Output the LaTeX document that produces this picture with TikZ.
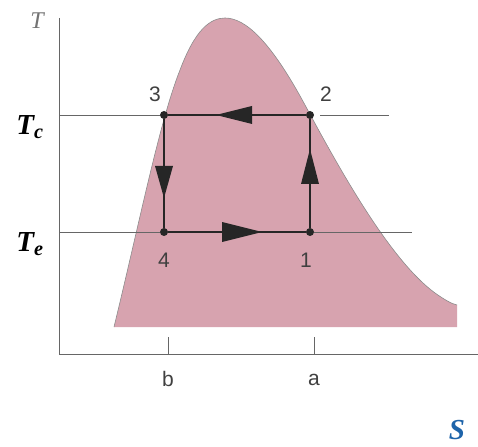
\documentclass[tikz,border=0pt]{standalone}
\usepackage{fontspec}
\setmainfont{Liberation Serif}
\setsansfont{Liberation Sans}
\begin{document}
\begin{tikzpicture}[x=1pt,y=-1pt,
  thin line/.style={draw=black!60,line width=0.9pt},
  cycle line/.style={draw=black!85,line width=1.4pt},
  dot/.style={circle,fill=black!85,inner sep=0pt,minimum size=8pt},
  tri/.style={fill=black!85},
  num/.style={font=\sffamily\fontsize{21}{21}\selectfont,text=black!75},
  axlab/.style={font=\itshape\fontsize{24}{24}\selectfont,text=black!55},
  big/.style={font=\bfseries\itshape\fontsize{29}{29}\selectfont}]
\definecolor{pinkfill}{RGB}{215,163,175}
\useasboundingbox (0,0) rectangle (478,446);
% pink region
\def\dome{(114,327) .. controls (140,220) and (160,120) .. (180,70)
 .. controls (195,30) and (210,18) .. (225,18)
 .. controls (245,18) and (270,40) .. (305,105)
 .. controls (340,170) and (390,260) .. (435,293)
 .. controls (445,300) and (452,304) .. (457,305)}
\fill[pinkfill] \dome -- (457,327) -- cycle;
\draw[draw=black!45,line width=0.6pt] \dome;
% axes
\coordinate (top) at (59,18);
\coordinate (orig) at (59,354);
\coordinate (right) at (478,354);
\draw[thin line] (top) -- (orig) -- (right);
% ticks
\coordinate (bt) at (168,337); \coordinate (bb) at (168,354);
\coordinate (at) at (314,337); \coordinate (ab) at (314,354);
\draw[thin line] (bt) -- (bb);
\draw[thin line] (at) -- (ab);
% points
\node[dot] (p3) at (164,115) {};
\node[dot] (p2) at (310,115) {};
\node[dot] (p4) at (164,232) {};
\node[dot] (p1) at (310,232) {};
% horizontal thin lines
\coordinate (tcL) at (59,115); \coordinate (tcR) at (389,115);
\coordinate (teL) at (59,232); \coordinate (teR) at (412,232);
\coordinate (tc2) at (320,115);
\draw[thin line] (tcL) -- (p3);
\draw[thin line] (tc2) -- (tcR);
\draw[thin line] (teL) -- (p4);
\draw[thin line] (p1) -- (teR);
% cycle
\draw[cycle line] (p2) -- (p3) -- (p4) -- (p1) -- (p2);
% arrow heads
\fill[tri] (216,115) -- (252,106) -- (252,124) -- cycle;
\fill[tri] (164,198) -- (155,166) -- (173,166) -- cycle;
\fill[tri] (310,149) -- (301,184) -- (319,184) -- cycle;
\fill[tri] (262,232) -- (222,222) -- (222,242) -- cycle;
% labels
\node[num] (l3) at (155,94) {3};
\node[num] (l2) at (326,94) {2};
\node[num] (l4) at (164,260) {4};
\node[num] (l1) at (306,260) {1};
\node[num] (lb) at (168,379) {b};
\node[num] (la) at (314,380) {a};
\node[axlab] (T) at (37,21) {T};
\node[big] (Tc) at (30,127) {T\textsubscript{c}};
\node[big] (Te) at (30,244) {T\textsubscript{e}};
\node[big,text={rgb,255:red,30;green,100;blue,170}] (S) at (457,430) {S};
\end{tikzpicture}
\end{document}
